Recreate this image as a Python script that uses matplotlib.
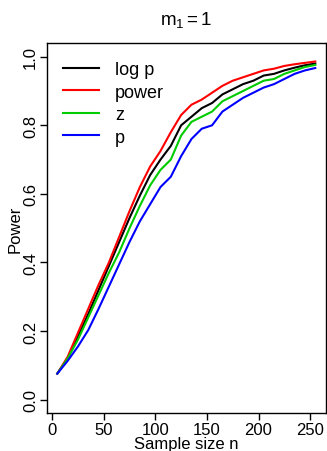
import matplotlib
matplotlib.use("Agg")
import matplotlib.pyplot as plt

plt.rcParams['font.family'] = ['Liberation Sans', 'DejaVu Sans']
plt.rcParams['mathtext.fontset'] = 'custom'
plt.rcParams['mathtext.rm'] = 'Liberation Sans'
plt.rcParams['mathtext.it'] = 'Liberation Sans'

# sample sizes and power curves
n = [5, 15, 25, 35, 45, 55, 65, 75, 85, 95, 105, 115, 125,
     135, 145, 155, 165, 175, 185, 195, 205, 215, 225, 235, 245, 255]
logp = [0.076, 0.12, 0.185, 0.25, 0.32, 0.39, 0.46, 0.53, 0.595, 0.655, 0.70, 0.74, 0.80,
        0.825, 0.85, 0.865, 0.89, 0.905, 0.92, 0.93, 0.945, 0.95, 0.96, 0.968, 0.975, 0.98]
power = [0.076, 0.125, 0.195, 0.265, 0.335, 0.40, 0.475, 0.55, 0.62, 0.68, 0.725, 0.78, 0.83,
         0.86, 0.875, 0.895, 0.915, 0.93, 0.94, 0.95, 0.96, 0.965, 0.973, 0.978, 0.982, 0.986]
z = [0.076, 0.12, 0.175, 0.24, 0.305, 0.37, 0.43, 0.50, 0.565, 0.625, 0.67, 0.70, 0.77,
     0.81, 0.825, 0.84, 0.87, 0.885, 0.90, 0.915, 0.93, 0.935, 0.95, 0.96, 0.97, 0.976]
p = [0.076, 0.113, 0.155, 0.203, 0.265, 0.33, 0.395, 0.46, 0.52, 0.57, 0.62, 0.65, 0.71,
     0.76, 0.79, 0.80, 0.84, 0.86, 0.88, 0.895, 0.91, 0.92, 0.935, 0.95, 0.96, 0.967]

labels = ['log p', 'power', 'z', 'p']
colors = ['black', 'red', '#00cc00', 'blue']

fig = plt.figure(figsize=(3.27, 4.52), dpi=100)
ax = fig.add_axes([0.1437, 0.0832, 0.852, 0.8195])

for ys, lab, col in zip([logp, power, z, p], labels, colors):
    ax.plot(n, ys, color=col, lw=1.5, label=lab)

ax.set_xlim(-5, 265)
ax.set_ylim(-0.04, 1.04)
ax.set_xticks([0, 50, 100, 150, 200, 250])
ax.set_yticks([0.0, 0.2, 0.4, 0.6, 0.8, 1.0])
ax.set_yticklabels(['0.0', '0.2', '0.4', '0.6', '0.8', '1.0'], rotation=90, va='center')
ax.tick_params(direction='out', length=5, width=1, pad=1.5, labelsize=12)
for s in ax.spines.values():
    s.set_linewidth(1)

ax.set_xlabel('Sample size n', fontsize=12, labelpad=-1)
ax.set_ylabel('Power', fontsize=12, labelpad=0)
ax.set_title(r'$\mathregular{m_1 = 1}$', fontsize=13.5, pad=14)

ax.legend(loc='upper left', bbox_to_anchor=(0.03, 0.97), frameon=False, fontsize=13,
          handlelength=2.0, handletextpad=0.9, labelspacing=0.3, borderaxespad=0)

fig.savefig('out.png', dpi=100)
